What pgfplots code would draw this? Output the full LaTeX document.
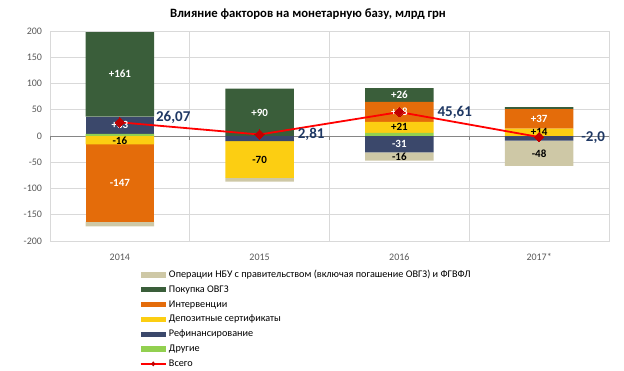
\documentclass[border=0pt]{standalone}
\usepackage{pgfplots}
\pgfplotsset{compat=1.18}
\usepackage{fontspec}
\setmainfont{Carlito}
\definecolor{cTan}{RGB}{206,200,166}
\definecolor{cDG}{RGB}{58,94,58}
\definecolor{cOr}{RGB}{228,108,10}
\definecolor{cYe}{RGB}{252,206,18}
\definecolor{cNa}{RGB}{59,72,107}
\definecolor{cLG}{RGB}{146,208,80}
\definecolor{cGrid}{RGB}{217,217,217}
\definecolor{cZero}{RGB}{134,134,134}
\definecolor{cTick}{RGB}{89,89,89}
\definecolor{cLbl}{RGB}{31,56,100}
\definecolor{cLine}{RGB}{255,0,0}
\definecolor{cMark}{RGB}{192,0,0}
\pgfplotsset{
  base/.style={
    scale only axis, width=559pt, height=210pt,
    at={(50pt,130pt)}, anchor=south west,
    xmin=-0.5, xmax=3.5, ymin=-200, ymax=200,
  },
  swatch/.style={legend image code/.code={\path[fill=#1, draw=none] (0pt,-2.6pt) rectangle (25pt,2.6pt);}},
  lswatch/.style={legend image code/.code={%
    \path[draw=cLine, line width=1.5pt] (0pt,0pt) -- (25pt,0pt);
    \path[fill=cMark, draw=none] (12.5pt,2.6pt) -- (14.6pt,0pt) -- (12.5pt,-2.6pt) -- (10.4pt,0pt) -- cycle;}},
}
\newcommand{\seglab}[4]{\node[font=\bfseries\fontsize{11}{12}\selectfont, text=#4, inner sep=0pt] at (axis cs:#1,#2) {#3};}
\begin{document}
\begin{tikzpicture}
\useasboundingbox (0,0) rectangle (624pt,371pt);
% ---------- axis 1: grid, ticks, negative stacks
\begin{axis}[base,
  ybar stacked, bar width=0.49,
  ytick={-200,-150,...,200},
  xtick={0,1,2,3}, xticklabels={2014,2015,2016,2017*},
  minor xtick={-0.5,0.5,1.5,2.5,3.5},
  ymajorgrids, xminorgrids,
  major grid style={cGrid, line width=0.75pt},
  minor grid style={cGrid, line width=0.75pt},
  axis line style={cGrid, line width=0.75pt},
  major tick length=0pt, minor tick length=0pt,
  tick style={draw=none},
  yticklabel style={font=\fontsize{10}{12}\selectfont, text=cTick, xshift=-4.5pt},
  xticklabel style={font=\fontsize{10}{12}\selectfont, text=cTick, yshift=-9pt},
  /pgf/number format/assume math mode=true,
]
% order: Другие, Рефинансирование, Депозитные, Интервенции, ОВГЗ, НБУ
\addplot[fill=cLG, draw=none, forget plot] coordinates {(0,0) (1,0) (2,0) (3,0)};
\addplot[fill=cNa, draw=none, forget plot] coordinates {(0,0) (1,-10) (2,-31) (3,-9)};
\addplot[fill=cYe, draw=none, forget plot] coordinates {(0,-16) (1,-70) (2,0) (3,0)};
\addplot[fill=cOr, draw=none, forget plot] coordinates {(0,-147) (1,0) (2,0) (3,0)};
\addplot[fill=cDG, draw=none, forget plot] coordinates {(0,0) (1,0) (2,0) (3,0)};
\addplot[fill=cTan, draw=none, forget plot] coordinates {(0,-9) (1,-7) (2,-16) (3,-48)};
\draw[cZero, line width=0.75pt] (axis cs:-0.5,0) -- (axis cs:3.5,0);
\pgfplotsinvokeforeach{-0.5,0.5,1.5,2.5,3.5}{\draw[cZero, line width=0.75pt] (axis cs:#1,0) -- ++(0pt,-4pt);}
\end{axis}
% ---------- axis 2: positive stacks
\begin{axis}[base, hide axis,
  ybar stacked, bar width=0.49,
]
\addplot[fill=cLG, draw=none, forget plot] coordinates {(0,4) (1,0) (2,6) (3,0)};
\addplot[fill=cNa, draw=none, forget plot] coordinates {(0,33) (1,0) (2,0) (3,0)};
\addplot[fill=cYe, draw=none, forget plot] coordinates {(0,0) (1,0) (2,21) (3,14)};
\addplot[fill=cOr, draw=none, forget plot] coordinates {(0,0) (1,0) (2,38) (3,37)};
\addplot[fill=cDG, draw=none, forget plot] coordinates {(0,161) (1,90) (2,26) (3,4)};
\addplot[fill=cTan, draw=none, forget plot] coordinates {(0,0) (1,0) (2,0) (3,0)};
\end{axis}
% ---------- axis 3: total line, labels, legend
\begin{axis}[base, hide axis, clip=false,
  legend style={at={(0.161,-0.127)}, anchor=north west, draw=none, fill=none,
    inner sep=0pt, outer sep=0pt, row sep=0pt,
    font=\fontsize{10.2}{12}\selectfont,
    nodes={inner ysep=2.4pt, inner xsep=2.5pt, text height=7.5pt, text depth=2.5pt}},
  legend cell align=left,
]
\addlegendimage{swatch=cTan}
\addlegendentry{Операции НБУ с правительством (включая погашение ОВГЗ) и ФГВФЛ}
\addlegendimage{swatch=cDG}
\addlegendentry{Покупка ОВГЗ}
\addlegendimage{swatch=cOr}
\addlegendentry{Интервенции}
\addlegendimage{swatch=cYe}
\addlegendentry{Депозитные сертификаты}
\addlegendimage{swatch=cNa}
\addlegendentry{Рефинансирование}
\addlegendimage{swatch=cLG}
\addlegendentry{Другие}
\addlegendimage{lswatch}
\addlegendentry{Всего}
\addplot[cLine, line width=1.8pt, mark=square*, mark size=3.4pt, mark options={rotate=45, fill=cMark, draw=cMark, line width=0pt}, forget plot]
  coordinates {(0,26.07) (1,2.81) (2,45.61) (3,-2.0)};
% segment labels
\seglab{0}{119}{+161}{white}
\seglab{0}{20.5}{+33}{white}
\seglab{0}{-9}{-16}{black}
\seglab{0}{-89.5}{-147}{white}
\seglab{1}{44}{+90}{white}
\seglab{1}{-45}{-70}{black}
\seglab{2}{78}{+26}{white}
\seglab{2}{46}{+38}{white}
\seglab{2}{16.5}{+21}{black}
\seglab{2}{-16}{-31}{white}
\seglab{2}{-40}{-16}{black}
\seglab{3}{33}{+37}{white}
\seglab{3}{8}{+14}{black}
\seglab{3}{-34}{-48}{black}
% total labels
\node[anchor=west, inner sep=0pt, font=\bfseries\fontsize{15}{16}\selectfont, text=cLbl] at (axis cs:0,35) [xshift=36pt] {26,07};
\node[anchor=west, inner sep=0pt, font=\bfseries\fontsize{15}{16}\selectfont, text=cLbl] at (axis cs:1,2.5) [xshift=38pt] {2,81};
\node[anchor=west, inner sep=0pt, font=\bfseries\fontsize{15}{16}\selectfont, text=cLbl] at (axis cs:2,44) [xshift=38pt] {45,61};
\node[anchor=west, inner sep=0pt, font=\bfseries\fontsize{15}{16}\selectfont, text=cLbl] at (axis cs:3,-3) [xshift=42pt] {-2,0};
\end{axis}
\node[font=\bfseries\fontsize{12.7}{14}\selectfont] at (308pt,357pt) {Влияние факторов на монетарную базу, млрд грн};
\end{tikzpicture}
\end{document}
